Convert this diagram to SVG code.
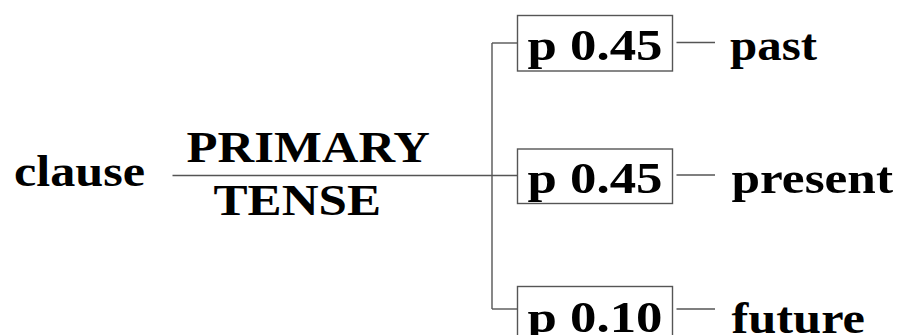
<svg xmlns="http://www.w3.org/2000/svg" width="897" height="335" viewBox="0 0 897 335">
  <style>
    .t { font-family: "Liberation Serif", "Times New Roman", serif; font-weight: bold; font-size: 45px; fill: #000; }
    .ln { stroke: #555; stroke-width: 1.4; fill: none; }
    .box { stroke: #555; stroke-width: 1.4; fill: #fff; }
  </style>
  <rect width="897" height="335" fill="#fff"/>

  <!-- connectors -->
  <g id="connectors">
    <line class="ln" x1="172.5" y1="175.5" x2="517.5" y2="175.5"/>
    <line class="ln" x1="492" y1="43" x2="492" y2="309"/>
    <line class="ln" x1="492" y1="43" x2="517.5" y2="43"/>
    <line class="ln" x1="492" y1="309" x2="517.5" y2="309"/>
    <line class="ln" x1="676.5" y1="42.5" x2="715" y2="42.5"/>
    <line class="ln" x1="676.5" y1="175" x2="715" y2="175"/>
    <line class="ln" x1="676.5" y1="309" x2="715" y2="309"/>
  </g>

  <g id="clause">
    <text class="t" x="14" y="186" textLength="131" lengthAdjust="spacingAndGlyphs">clause</text>
  </g>

  <g id="system-name">
    <text class="t" x="186.5" y="162" textLength="243.5" lengthAdjust="spacingAndGlyphs">PRIMARY</text>
    <text class="t" x="213.5" y="215" textLength="167.5" lengthAdjust="spacingAndGlyphs">TENSE</text>
  </g>

  <g id="prob-past">
    <rect class="box" x="517.5" y="15.5" width="155" height="55.5"/>
    <text class="t" x="527.5" y="60" textLength="135" lengthAdjust="spacingAndGlyphs">p 0.45</text>
  </g>
  <g id="prob-present">
    <rect class="box" x="517.5" y="149" width="155" height="54.5"/>
    <text class="t" x="527.5" y="193" textLength="135" lengthAdjust="spacingAndGlyphs">p 0.45</text>
  </g>
  <g id="prob-future">
    <rect class="box" x="517.5" y="286.5" width="155" height="55"/>
    <text class="t" x="527.5" y="332" textLength="135" lengthAdjust="spacingAndGlyphs">p 0.10</text>
  </g>

  <g id="past">
    <text class="t" x="730" y="60" textLength="87" lengthAdjust="spacingAndGlyphs">past</text>
  </g>
  <g id="present">
    <text class="t" x="731.5" y="193" textLength="161.5" lengthAdjust="spacingAndGlyphs">present</text>
  </g>
  <g id="future">
    <text class="t" x="731.5" y="333" textLength="133.5" lengthAdjust="spacingAndGlyphs">future</text>
  </g>
</svg>
